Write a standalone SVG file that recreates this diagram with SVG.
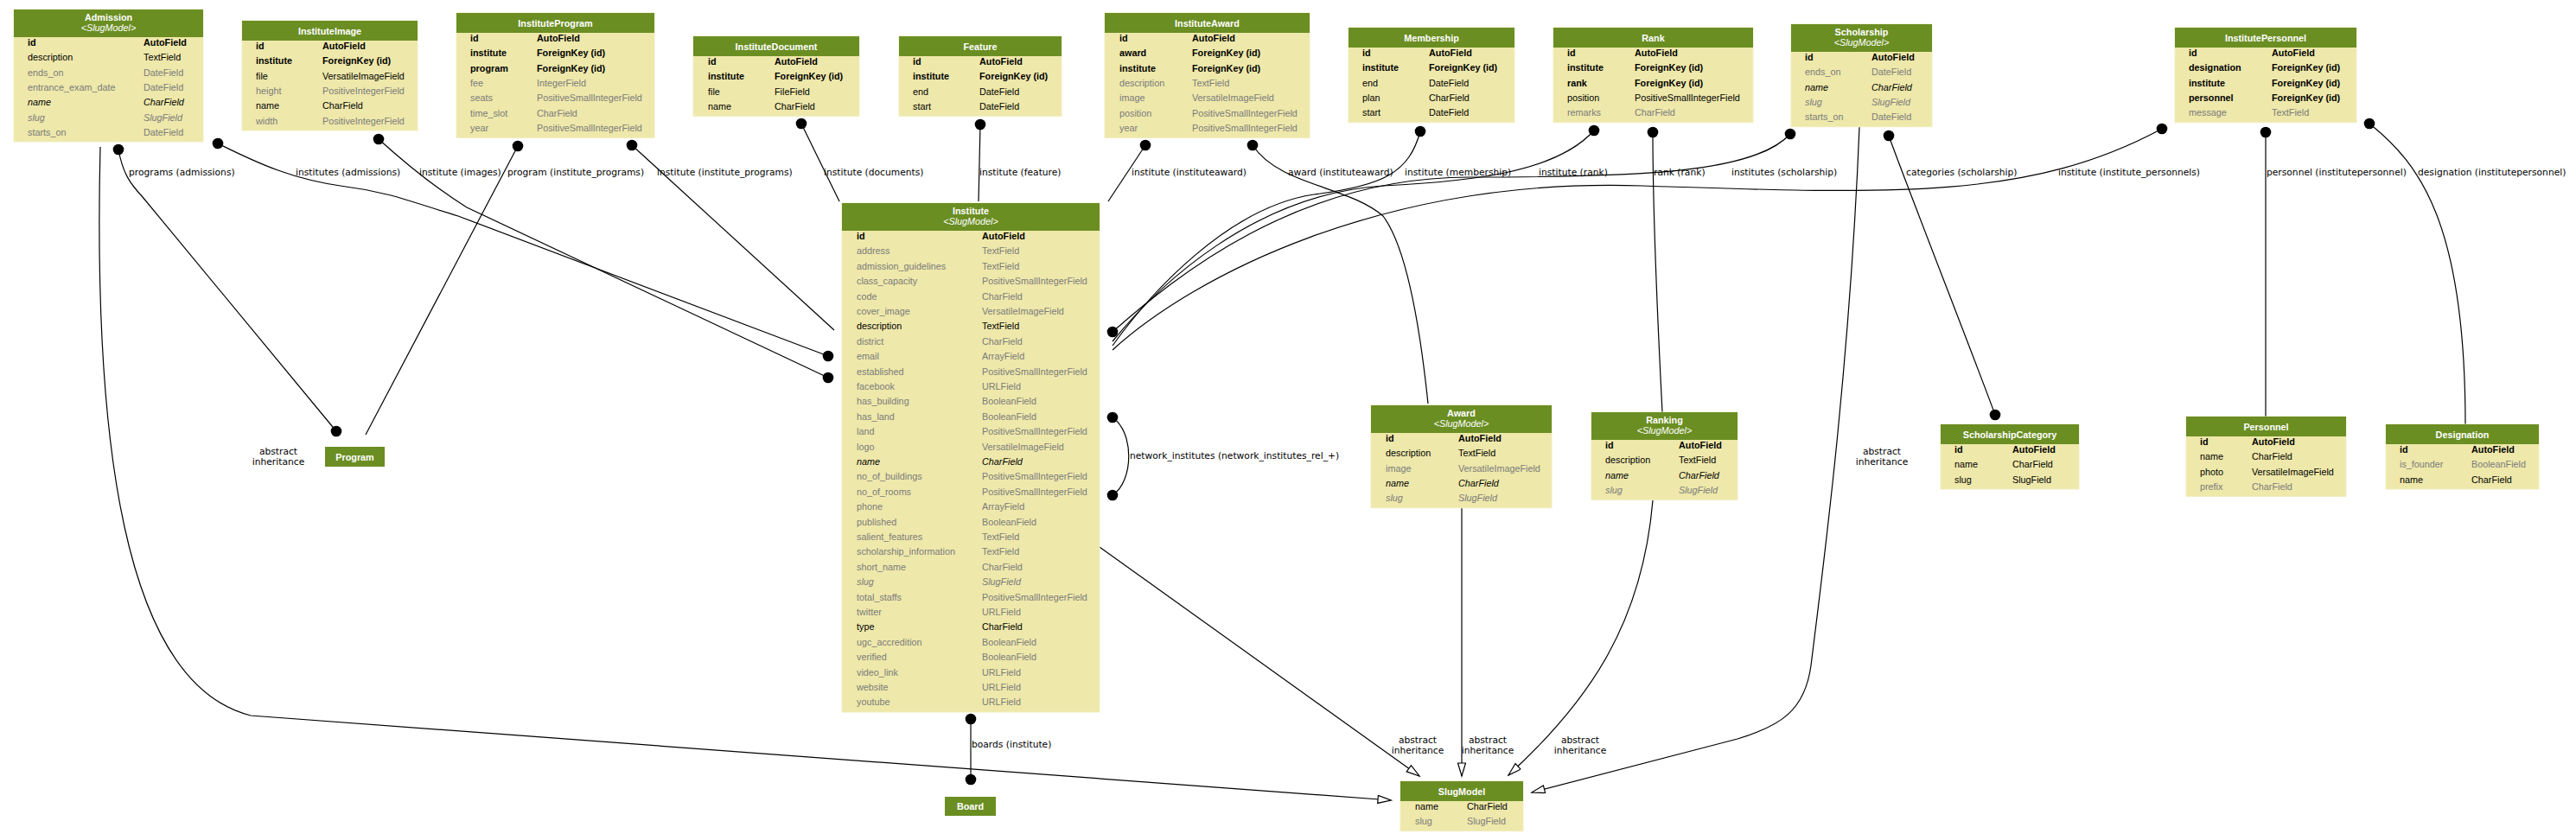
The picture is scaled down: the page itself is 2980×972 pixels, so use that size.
<svg xmlns="http://www.w3.org/2000/svg" width="2980" height="972" viewBox="0 0 2980 972">
<style>
.hd{fill:#6b8e23}
.bd{fill:#eee8aa;stroke:#f2edc0;stroke-width:1}
text{font-family:"Liberation Sans",Arial,sans-serif;font-size:10.8px;fill:#000}
.ht{fill:#fff;font-weight:bold;text-anchor:middle}
.hs{fill:#fff;font-style:italic;text-anchor:middle}
.b{font-weight:bold}
.g{fill:#7b7b7b}
.i{font-style:italic}
.el{font-family:"DejaVu Sans",Verdana,sans-serif;font-size:10.7px;fill:#000}
.ec{text-anchor:middle}
.e{fill:none;stroke:#000;stroke-width:1.2}
.d{fill:#000}
</style>
<defs>
<marker id="tri" markerUnits="userSpaceOnUse" markerWidth="18" markerHeight="12" refX="16" refY="5" orient="auto">
<path d="M1,0.5 L16,5 L1,9.5 z" fill="#fff" stroke="#000" stroke-width="1.2"/>
</marker>
</defs>
<rect width="2980" height="972" fill="#fff"/>

<g id="connectors">
<path class="e" d="M116,170 C 108,500 140,790 290,828 L 1609,926" marker-end="url(#tri)"/>
<path class="e" d="M137,173 C 142,200 150,212 165,228 L 389,499"/>
<circle class="d" cx="137" cy="173" r="6.3"/><circle class="d" cx="389" cy="499" r="6.3"/>
<path class="e" d="M252,166 C 300,190 340,208 400,216 C 450,222 480,235 530,250 L 958,412"/>
<circle class="d" cx="252" cy="166" r="6.3"/><circle class="d" cx="958" cy="412" r="6.3"/>
<path class="e" d="M438,161 C 470,190 500,215 540,240 L 958,437"/>
<circle class="d" cx="438" cy="161" r="6.3"/><circle class="d" cx="958" cy="437" r="6.3"/>
<path class="e" d="M599,169 L 423,503"/>
<circle class="d" cx="599" cy="169" r="6.3"/>
<path class="e" d="M731,168 L 965,382"/>
<circle class="d" cx="731" cy="168" r="6.3"/>
<path class="e" d="M927,143 L 971,233"/>
<circle class="d" cx="927" cy="143" r="6.3"/>
<path class="e" d="M1134,144 L 1132,233"/>
<circle class="d" cx="1134" cy="144" r="6.3"/>
<path class="e" d="M1325,168 L 1282,233"/>
<circle class="d" cx="1325" cy="168" r="6.3"/>
<path class="e" d="M1449,168 C 1480,215 1560,215 1600,250 C 1630,290 1645,400 1652,467"/>
<circle class="d" cx="1449" cy="168" r="6.3"/>
<path class="e" d="M1643,152 C 1630,200 1600,215 1520,225 C 1420,240 1330,340 1287,400"/>
<circle class="d" cx="1643" cy="152" r="6.3"/>
<path class="e" d="M1844,151 C 1800,200 1700,210 1600,215 C 1450,225 1340,330 1287,395"/>
<circle class="d" cx="1844" cy="151" r="6.3"/>
<path class="e" d="M2071,155 C 2030,200 1900,205 1700,205 C 1500,205 1360,320 1287,384"/>
<circle class="d" cx="2071" cy="155" r="6.3"/><circle class="d" cx="1287" cy="384" r="6.3"/>
<path class="e" d="M2501,149 C 2350,230 2200,225 1900,215 C 1600,205 1380,320 1287,405"/>
<circle class="d" cx="2501" cy="149" r="6.3"/>
<path class="e" d="M1912,153 C 1912,250 1918,380 1923,477"/>
<circle class="d" cx="1912" cy="153" r="6.3"/>
<path class="e" d="M2185,157 C 2200,200 2290,430 2308,480"/>
<circle class="d" cx="2185" cy="157" r="6.3"/><circle class="d" cx="2308" cy="480" r="6.3"/>
<path class="e" d="M2151,147 C 2140,420 2110,650 2095,770 C 2088,822 2060,840 2010,855 L 1772,917" marker-end="url(#tri)"/>
<path class="e" d="M2621,153 L 2621,482"/>
<circle class="d" cx="2621" cy="153" r="6.3"/>
<path class="e" d="M2741,143 C 2800,190 2852,260 2852,491"/>
<circle class="d" cx="2741" cy="143" r="6.3"/>
<path class="e" d="M1272,633 L 1642,898" marker-end="url(#tri)"/>
<path class="e" d="M1691,588 L 1691,898" marker-end="url(#tri)"/>
<path class="e" d="M1912,579 C 1900,720 1840,810 1745,897" marker-end="url(#tri)"/>
<path class="e" d="M1287,483 C 1312,500 1312,556 1287,573"/>
<circle class="d" cx="1287" cy="483" r="6.3"/><circle class="d" cx="1287" cy="573" r="6.3"/>
<path class="e" d="M1123,832 L 1123,902"/>
<circle class="d" cx="1123" cy="832" r="6.3"/><circle class="d" cx="1123" cy="902" r="6.3"/>

<text class="el" x="149" y="203">programs (admissions)</text>
<text class="el" x="342" y="203">institutes (admissions)</text>
<text class="el" x="485" y="203">institute (images)</text>
<text class="el" x="587" y="203">program (institute_programs)</text>
<text class="el" x="760" y="203">institute (institute_programs)</text>
<text class="el" x="953" y="203">institute (documents)</text>
<text class="el" x="1133" y="203">institute (feature)</text>
<text class="el" x="1309" y="203">institute (instituteaward)</text>
<text class="el" x="1490" y="203">award (instituteaward)</text>
<text class="el" x="1625" y="203">institute (membership)</text>
<text class="el" x="1780" y="203">institute (rank)</text>
<text class="el" x="1913" y="203">rank (rank)</text>
<text class="el" x="2003" y="203">institutes (scholarship)</text>
<text class="el" x="2205" y="203">categories (scholarship)</text>
<text class="el" x="2381" y="203">institute (institute_personnels)</text>
<text class="el" x="2622" y="203">personnel (institutepersonnel)</text>
<text class="el" x="2797" y="203">designation (institutepersonnel)</text>
<text class="el" x="1307" y="531">network_institutes (network_institutes_rel_+)</text>
<text class="el" x="1124" y="865">boards (institute)</text>
<text class="el ec" x="322" y="526">abstract</text><text class="el ec" x="322" y="537.5">inheritance</text>
<text class="el ec" x="1640" y="860">abstract</text><text class="el ec" x="1640" y="871.5">inheritance</text>
<text class="el ec" x="1721" y="860">abstract</text><text class="el ec" x="1721" y="871.5">inheritance</text>
<text class="el ec" x="1828" y="860">abstract</text><text class="el ec" x="1828" y="871.5">inheritance</text>
<text class="el ec" x="2177" y="526">abstract</text><text class="el ec" x="2177" y="537.5">inheritance</text>
</g>

<g id="node-Admission">
<rect class="bd" x="16" y="11" width="219" height="153"/><rect class="hd" x="16" y="11" width="219" height="32"/>
<text class="ht" x="125.5" y="24">Admission</text><text class="hs" x="125.5" y="36">&lt;SlugModel&gt;</text>
<text class="b" x="32" y="53">id</text><text class="b" x="166" y="53">AutoField</text>
<text x="32" y="70.35">description</text><text x="166" y="70.35">TextField</text>
<text class="g" x="32" y="87.7">ends_on</text><text class="g" x="166" y="87.7">DateField</text>
<text class="g" x="32" y="105.05">entrance_exam_date</text><text class="g" x="166" y="105.05">DateField</text>
<text class="i" x="32" y="122.4">name</text><text class="i" x="166" y="122.4">CharField</text>
<text class="g i" x="32" y="139.75">slug</text><text class="g i" x="166" y="139.75">SlugField</text>
<text class="g" x="32" y="157.1">starts_on</text><text class="g" x="166" y="157.1">DateField</text>
</g>

<g id="node-InstituteImage">
<rect class="bd" x="280" y="24" width="203" height="127"/><rect class="hd" x="280" y="24" width="203" height="23"/>
<text class="ht" x="381.5" y="39.5">InstituteImage</text>
<text class="b" x="296" y="57">id</text><text class="b" x="373" y="57">AutoField</text>
<text class="b" x="296" y="74.35">institute</text><text class="b" x="373" y="74.35">ForeignKey (id)</text>
<text x="296" y="91.7">file</text><text x="373" y="91.7">VersatileImageField</text>
<text class="g" x="296" y="109.05">height</text><text class="g" x="373" y="109.05">PositiveIntegerField</text>
<text x="296" y="126.4">name</text><text x="373" y="126.4">CharField</text>
<text class="g" x="296" y="143.75">width</text><text class="g" x="373" y="143.75">PositiveIntegerField</text>
</g>

<g id="node-InstituteProgram">
<rect class="bd" x="528" y="15" width="229" height="144.5"/><rect class="hd" x="528" y="15" width="229" height="23"/>
<text class="ht" x="642.5" y="30.5">InstituteProgram</text>
<text class="b" x="544" y="48">id</text><text class="b" x="621" y="48">AutoField</text>
<text class="b" x="544" y="65.35">institute</text><text class="b" x="621" y="65.35">ForeignKey (id)</text>
<text class="b" x="544" y="82.7">program</text><text class="b" x="621" y="82.7">ForeignKey (id)</text>
<text class="g" x="544" y="100.05">fee</text><text class="g" x="621" y="100.05">IntegerField</text>
<text class="g" x="544" y="117.4">seats</text><text class="g" x="621" y="117.4">PositiveSmallIntegerField</text>
<text class="g" x="544" y="134.75">time_slot</text><text class="g" x="621" y="134.75">CharField</text>
<text class="g" x="544" y="152.1">year</text><text class="g" x="621" y="152.1">PositiveSmallIntegerField</text>
</g>

<g id="node-InstituteDocument">
<rect class="bd" x="802" y="42" width="192" height="92.4"/><rect class="hd" x="802" y="42" width="192" height="23"/>
<text class="ht" x="898" y="57.5">InstituteDocument</text>
<text class="b" x="819" y="75">id</text><text class="b" x="896" y="75">AutoField</text>
<text class="b" x="819" y="92.35">institute</text><text class="b" x="896" y="92.35">ForeignKey (id)</text>
<text x="819" y="109.7">file</text><text x="896" y="109.7">FileField</text>
<text x="819" y="127.05">name</text><text x="896" y="127.05">CharField</text>
</g>

<g id="node-Feature">
<rect class="bd" x="1040" y="42" width="188" height="92.4"/><rect class="hd" x="1040" y="42" width="188" height="23"/>
<text class="ht" x="1134" y="57.5">Feature</text>
<text class="b" x="1056" y="75">id</text><text class="b" x="1133" y="75">AutoField</text>
<text class="b" x="1056" y="92.35">institute</text><text class="b" x="1133" y="92.35">ForeignKey (id)</text>
<text x="1056" y="109.7">end</text><text x="1133" y="109.7">DateField</text>
<text x="1056" y="127.05">start</text><text x="1133" y="127.05">DateField</text>
</g>

<g id="node-InstituteAward">
<rect class="bd" x="1278" y="15" width="237" height="144.5"/><rect class="hd" x="1278" y="15" width="237" height="23"/>
<text class="ht" x="1396.5" y="30.5">InstituteAward</text>
<text class="b" x="1295" y="48">id</text><text class="b" x="1379" y="48">AutoField</text>
<text class="b" x="1295" y="65.35">award</text><text class="b" x="1379" y="65.35">ForeignKey (id)</text>
<text class="b" x="1295" y="82.7">institute</text><text class="b" x="1379" y="82.7">ForeignKey (id)</text>
<text class="g" x="1295" y="100.05">description</text><text class="g" x="1379" y="100.05">TextField</text>
<text class="g" x="1295" y="117.4">image</text><text class="g" x="1379" y="117.4">VersatileImageField</text>
<text class="g" x="1295" y="134.75">position</text><text class="g" x="1379" y="134.75">PositiveSmallIntegerField</text>
<text class="g" x="1295" y="152.1">year</text><text class="g" x="1379" y="152.1">PositiveSmallIntegerField</text>
</g>

<g id="node-Membership">
<rect class="bd" x="1560" y="32" width="192" height="109.75"/><rect class="hd" x="1560" y="32" width="192" height="23"/>
<text class="ht" x="1656" y="47.5">Membership</text>
<text class="b" x="1576" y="65">id</text><text class="b" x="1653" y="65">AutoField</text>
<text class="b" x="1576" y="82.35">institute</text><text class="b" x="1653" y="82.35">ForeignKey (id)</text>
<text x="1576" y="99.7">end</text><text x="1653" y="99.7">DateField</text>
<text x="1576" y="117.05">plan</text><text x="1653" y="117.05">CharField</text>
<text x="1576" y="134.4">start</text><text x="1653" y="134.4">DateField</text>
</g>

<g id="node-Rank">
<rect class="bd" x="1797" y="32" width="231" height="109.75"/><rect class="hd" x="1797" y="32" width="231" height="23"/>
<text class="ht" x="1912.5" y="47.5">Rank</text>
<text class="b" x="1813" y="65">id</text><text class="b" x="1891" y="65">AutoField</text>
<text class="b" x="1813" y="82.35">institute</text><text class="b" x="1891" y="82.35">ForeignKey (id)</text>
<text class="b" x="1813" y="99.7">rank</text><text class="b" x="1891" y="99.7">ForeignKey (id)</text>
<text x="1813" y="117.05">position</text><text x="1891" y="117.05">PositiveSmallIntegerField</text>
<text class="g" x="1813" y="134.4">remarks</text><text class="g" x="1891" y="134.4">CharField</text>
</g>

<g id="node-Scholarship">
<rect class="bd" x="2072" y="28" width="163" height="118.75"/><rect class="hd" x="2072" y="28" width="163" height="32"/>
<text class="ht" x="2153.5" y="41">Scholarship</text><text class="hs" x="2153.5" y="53">&lt;SlugModel&gt;</text>
<text class="b" x="2088" y="70">id</text><text class="b" x="2165" y="70">AutoField</text>
<text class="g" x="2088" y="87.35">ends_on</text><text class="g" x="2165" y="87.35">DateField</text>
<text class="i" x="2088" y="104.7">name</text><text class="i" x="2165" y="104.7">CharField</text>
<text class="g i" x="2088" y="122.05">slug</text><text class="g i" x="2165" y="122.05">SlugField</text>
<text class="g" x="2088" y="139.4">starts_on</text><text class="g" x="2165" y="139.4">DateField</text>
</g>

<g id="node-InstitutePersonnel">
<rect class="bd" x="2516" y="32" width="210" height="109.75"/><rect class="hd" x="2516" y="32" width="210" height="23"/>
<text class="ht" x="2621" y="47.5">InstitutePersonnel</text>
<text class="b" x="2532" y="65">id</text><text class="b" x="2628" y="65">AutoField</text>
<text class="b" x="2532" y="82.35">designation</text><text class="b" x="2628" y="82.35">ForeignKey (id)</text>
<text class="b" x="2532" y="99.7">institute</text><text class="b" x="2628" y="99.7">ForeignKey (id)</text>
<text class="b" x="2532" y="117.05">personnel</text><text class="b" x="2628" y="117.05">ForeignKey (id)</text>
<text class="g" x="2532" y="134.4">message</text><text class="g" x="2628" y="134.4">TextField</text>
</g>

<g id="node-Institute">
<rect class="bd" x="974" y="235" width="298" height="589"/><rect class="hd" x="974" y="235" width="298" height="32"/>
<text class="ht" x="1123" y="248">Institute</text><text class="hs" x="1123" y="260">&lt;SlugModel&gt;</text>
<text class="b" x="991" y="277">id</text><text class="b" x="1136" y="277">AutoField</text>
<text class="g" x="991" y="294.4">address</text><text class="g" x="1136" y="294.4">TextField</text>
<text class="g" x="991" y="311.8">admission_guidelines</text><text class="g" x="1136" y="311.8">TextField</text>
<text class="g" x="991" y="329.2">class_capacity</text><text class="g" x="1136" y="329.2">PositiveSmallIntegerField</text>
<text class="g" x="991" y="346.6">code</text><text class="g" x="1136" y="346.6">CharField</text>
<text class="g" x="991" y="364">cover_image</text><text class="g" x="1136" y="364">VersatileImageField</text>
<text x="991" y="381.4">description</text><text x="1136" y="381.4">TextField</text>
<text class="g" x="991" y="398.8">district</text><text class="g" x="1136" y="398.8">CharField</text>
<text class="g" x="991" y="416.2">email</text><text class="g" x="1136" y="416.2">ArrayField</text>
<text class="g" x="991" y="433.6">established</text><text class="g" x="1136" y="433.6">PositiveSmallIntegerField</text>
<text class="g" x="991" y="451">facebook</text><text class="g" x="1136" y="451">URLField</text>
<text class="g" x="991" y="468.4">has_building</text><text class="g" x="1136" y="468.4">BooleanField</text>
<text class="g" x="991" y="485.8">has_land</text><text class="g" x="1136" y="485.8">BooleanField</text>
<text class="g" x="991" y="503.2">land</text><text class="g" x="1136" y="503.2">PositiveSmallIntegerField</text>
<text class="g" x="991" y="520.6">logo</text><text class="g" x="1136" y="520.6">VersatileImageField</text>
<text class="i" x="991" y="538">name</text><text class="i" x="1136" y="538">CharField</text>
<text class="g" x="991" y="555.4">no_of_buildings</text><text class="g" x="1136" y="555.4">PositiveSmallIntegerField</text>
<text class="g" x="991" y="572.8">no_of_rooms</text><text class="g" x="1136" y="572.8">PositiveSmallIntegerField</text>
<text class="g" x="991" y="590.2">phone</text><text class="g" x="1136" y="590.2">ArrayField</text>
<text class="g" x="991" y="607.6">published</text><text class="g" x="1136" y="607.6">BooleanField</text>
<text class="g" x="991" y="625">salient_features</text><text class="g" x="1136" y="625">TextField</text>
<text class="g" x="991" y="642.4">scholarship_information</text><text class="g" x="1136" y="642.4">TextField</text>
<text class="g" x="991" y="659.8">short_name</text><text class="g" x="1136" y="659.8">CharField</text>
<text class="g i" x="991" y="677.2">slug</text><text class="g i" x="1136" y="677.2">SlugField</text>
<text class="g" x="991" y="694.6">total_staffs</text><text class="g" x="1136" y="694.6">PositiveSmallIntegerField</text>
<text class="g" x="991" y="712">twitter</text><text class="g" x="1136" y="712">URLField</text>
<text x="991" y="729.4">type</text><text x="1136" y="729.4">CharField</text>
<text class="g" x="991" y="746.8">ugc_accredition</text><text class="g" x="1136" y="746.8">BooleanField</text>
<text class="g" x="991" y="764.2">verified</text><text class="g" x="1136" y="764.2">BooleanField</text>
<text class="g" x="991" y="781.6">video_link</text><text class="g" x="1136" y="781.6">URLField</text>
<text class="g" x="991" y="799">website</text><text class="g" x="1136" y="799">URLField</text>
<text class="g" x="991" y="816.4">youtube</text><text class="g" x="1136" y="816.4">URLField</text>
</g>

<g id="node-Program">
<rect class="hd" x="376" y="517" width="69" height="23"/>
<text class="ht" x="410.5" y="532.5">Program</text>
</g>

<g id="node-Award">
<rect class="bd" x="1586" y="469" width="209" height="118.75"/><rect class="hd" x="1586" y="469" width="209" height="32"/>
<text class="ht" x="1690.5" y="482">Award</text><text class="hs" x="1690.5" y="494">&lt;SlugModel&gt;</text>
<text class="b" x="1603" y="511">id</text><text class="b" x="1687" y="511">AutoField</text>
<text x="1603" y="528.35">description</text><text x="1687" y="528.35">TextField</text>
<text class="g" x="1603" y="545.7">image</text><text class="g" x="1687" y="545.7">VersatileImageField</text>
<text class="i" x="1603" y="563.05">name</text><text class="i" x="1687" y="563.05">CharField</text>
<text class="g i" x="1603" y="580.4">slug</text><text class="g i" x="1687" y="580.4">SlugField</text>
</g>

<g id="node-Ranking">
<rect class="bd" x="1841" y="477" width="169" height="101.4"/><rect class="hd" x="1841" y="477" width="169" height="32"/>
<text class="ht" x="1925.5" y="490">Ranking</text><text class="hs" x="1925.5" y="502">&lt;SlugModel&gt;</text>
<text class="b" x="1857" y="519">id</text><text class="b" x="1942" y="519">AutoField</text>
<text x="1857" y="536.35">description</text><text x="1942" y="536.35">TextField</text>
<text class="i" x="1857" y="553.7">name</text><text class="i" x="1942" y="553.7">CharField</text>
<text class="g i" x="1857" y="571.05">slug</text><text class="g i" x="1942" y="571.05">SlugField</text>
</g>

<g id="node-ScholarshipCategory">
<rect class="bd" x="2245" y="491" width="160" height="75"/><rect class="hd" x="2245" y="491" width="160" height="23"/>
<text class="ht" x="2325" y="506.5">ScholarshipCategory</text>
<text class="b" x="2261" y="524">id</text><text class="b" x="2328" y="524">AutoField</text>
<text x="2261" y="541.35">name</text><text x="2328" y="541.35">CharField</text>
<text x="2261" y="558.7">slug</text><text x="2328" y="558.7">SlugField</text>
</g>

<g id="node-Personnel">
<rect class="bd" x="2529" y="482" width="185" height="92.4"/><rect class="hd" x="2529" y="482" width="185" height="23"/>
<text class="ht" x="2621.5" y="497.5">Personnel</text>
<text class="b" x="2545" y="515">id</text><text class="b" x="2605" y="515">AutoField</text>
<text x="2545" y="532.35">name</text><text x="2605" y="532.35">CharField</text>
<text x="2545" y="549.7">photo</text><text x="2605" y="549.7">VersatileImageField</text>
<text class="g" x="2545" y="567.05">prefix</text><text class="g" x="2605" y="567.05">CharField</text>
</g>

<g id="node-Designation">
<rect class="bd" x="2760" y="491" width="177" height="75"/><rect class="hd" x="2760" y="491" width="177" height="23"/>
<text class="ht" x="2848.5" y="506.5">Designation</text>
<text class="b" x="2776" y="524">id</text><text class="b" x="2859" y="524">AutoField</text>
<text class="g" x="2776" y="541.35">is_founder</text><text class="g" x="2859" y="541.35">BooleanField</text>
<text x="2776" y="558.7">name</text><text x="2859" y="558.7">CharField</text>
</g>

<g id="node-SlugModel">
<rect class="bd" x="1620" y="904" width="142" height="57.7"/><rect class="hd" x="1620" y="904" width="142" height="23"/>
<text class="ht" x="1691" y="919.5">SlugModel</text>
<text x="1637" y="937">name</text><text x="1697" y="937">CharField</text>
<text class="g" x="1637" y="954.35">slug</text><text class="g" x="1697" y="954.35">SlugField</text>
</g>

<g id="node-Board">
<rect class="hd" x="1093" y="922" width="59" height="22"/>
<text class="ht" x="1122.5" y="937">Board</text>
</g>
</svg>
